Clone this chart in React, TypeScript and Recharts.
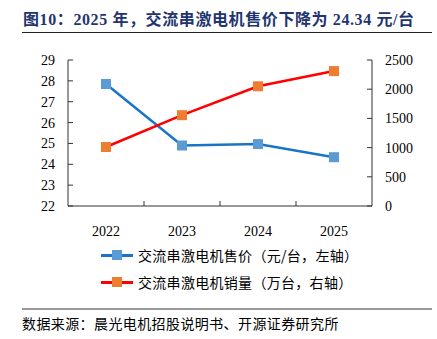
import { LineChart, Line, XAxis, YAxis } from 'recharts'

const years = ['2022', '2023', '2024', '2025']
const priceValues = [27.85, 24.9, 24.97, 24.34]
const volumeValues = [1010, 1555, 2050, 2310]
const leftTicks = [22, 23, 24, 25, 26, 27, 28, 29]
const rightTicks = [0, 500, 1000, 1500, 2000, 2500]

const data = years.map((year, i) => ({ year, price: priceValues[i], volume: volumeValues[i] }))

const serif = '"Liberation Serif", "DejaVu Serif", serif'
const cjk = '"Noto Sans CJK SC", sans-serif'
const titleFont = '"Liberation Serif", "Noto Sans CJK SC", serif'
const axisColor = '#333'

const Square = (color: string) => (props: any) => {
  const { cx, cy } = props
  if (cx == null || cy == null) return null
  return <rect x={cx - 5} y={cy - 5} width={10} height={10} fill={color} />
}

const LeftTick = (props: any) => {
  const { y, payload } = props
  return (
    <g>
      <line x1={68} x2={73} y1={y} y2={y} stroke={axisColor} />
      <text x={55} y={y} dy={5} textAnchor="end" fontSize={14} fontFamily={serif} fill="#000">
        {payload.value}
      </text>
    </g>
  )
}

const RightTick = (props: any) => {
  const { y, payload } = props
  return (
    <g>
      <line x1={367} x2={372} y1={y} y2={y} stroke={axisColor} />
      <text x={385} y={y} dy={5} textAnchor="start" fontSize={14} fontFamily={serif} fill="#000">
        {payload.value}
      </text>
    </g>
  )
}

const BottomTick = (props: any) => {
  const { x, y, payload, index } = props
  return (
    <g>
      {index < years.length - 1 && (
        <line x1={x + 38} x2={x + 38} y1={206} y2={201} stroke={axisColor} />
      )}
      <text x={x} y={y} dy={22} textAnchor="middle" fontSize={14} fontFamily={serif} fill="#000">
        {payload.value}
      </text>
    </g>
  )
}

function LegendItem({ line, marker, label, top }: { line: string; marker: string; label: string; top: number }) {
  return (
    <div style={{ position: 'absolute', left: 101, top, display: 'flex', alignItems: 'center' }}>
      <div style={{ position: 'relative', width: 32, height: 10 }}>
        <div style={{ position: 'absolute', left: 0, top: 4, width: 32, height: 3, background: line }} />
        <div style={{ position: 'absolute', left: 11, top: 0, width: 10, height: 10, background: marker }} />
      </div>
      <span style={{ marginLeft: 5, fontSize: 14, fontFamily: cjk, color: '#000', lineHeight: '14px', letterSpacing: 0.3 }}>
        {label}
      </span>
    </div>
  )
}

export default function App() {
  return (
    <div style={{ position: 'fixed', left: 0, top: 0, width: 437, height: 339, background: '#fff', overflow: 'hidden' }}>
      <div
        style={{
          position: 'absolute',
          left: 23,
          top: 10,
          fontSize: 16,
          fontWeight: 'bold',
          color: '#1F3570',
          fontFamily: titleFont,
          lineHeight: '20px',
          letterSpacing: 0.6,
          whiteSpace: 'nowrap',
        }}
      >
        图10：2025 年，交流串激电机售价下降为 24.34 元/台
      </div>
      <div style={{ position: 'absolute', left: 22, top: 32, width: 410, height: 1, background: '#222' }} />

      <div style={{ position: 'absolute', left: 0, top: 0 }}>
        <LineChart width={437} height={240} data={data} margin={{ top: 60, right: 0, bottom: 4, left: 0 }}>
          <XAxis
            dataKey="year"
            height={30}
            padding={{ left: 38, right: 38 }}
            axisLine={{ stroke: axisColor }}
            tickLine={false}
            tick={<BottomTick />}
            interval={0}
          />
          <YAxis
            yAxisId="left"
            width={68}
            domain={[22, 29]}
            ticks={leftTicks}
            axisLine={{ stroke: axisColor }}
            tickLine={false}
            tick={<LeftTick />}
            interval={0}
          />
          <YAxis
            yAxisId="right"
            orientation="right"
            width={65}
            domain={[0, 2500]}
            ticks={rightTicks}
            axisLine={{ stroke: axisColor }}
            tickLine={false}
            tick={<RightTick />}
            interval={0}
          />
          <Line
            yAxisId="left"
            dataKey="price"
            stroke="#1A75C8"
            strokeWidth={2.5}
            dot={Square('#5B9BD5')}
            isAnimationActive={false}
          />
          <Line
            yAxisId="right"
            dataKey="volume"
            stroke="#FF0000"
            strokeWidth={2.5}
            dot={Square('#ED7D31')}
            isAnimationActive={false}
          />
        </LineChart>
      </div>

      <LegendItem line="#1A75C8" marker="#5B9BD5" label="交流串激电机售价（元/台，左轴）" top={248} />
      <LegendItem line="#FF0000" marker="#ED7D31" label="交流串激电机销量（万台，右轴）" top={275} />

      <div style={{ position: 'absolute', left: 22, top: 308, width: 410, height: 2, background: '#999' }} />
      <div
        style={{
          position: 'absolute',
          left: 22,
          top: 315,
          fontSize: 14,
          fontFamily: cjk,
          color: '#000',
          lineHeight: '16px',
          letterSpacing: 0.4,
          whiteSpace: 'nowrap',
        }}
      >
        数据来源：晨光电机招股说明书、开源证券研究所
      </div>
    </div>
  )
}
